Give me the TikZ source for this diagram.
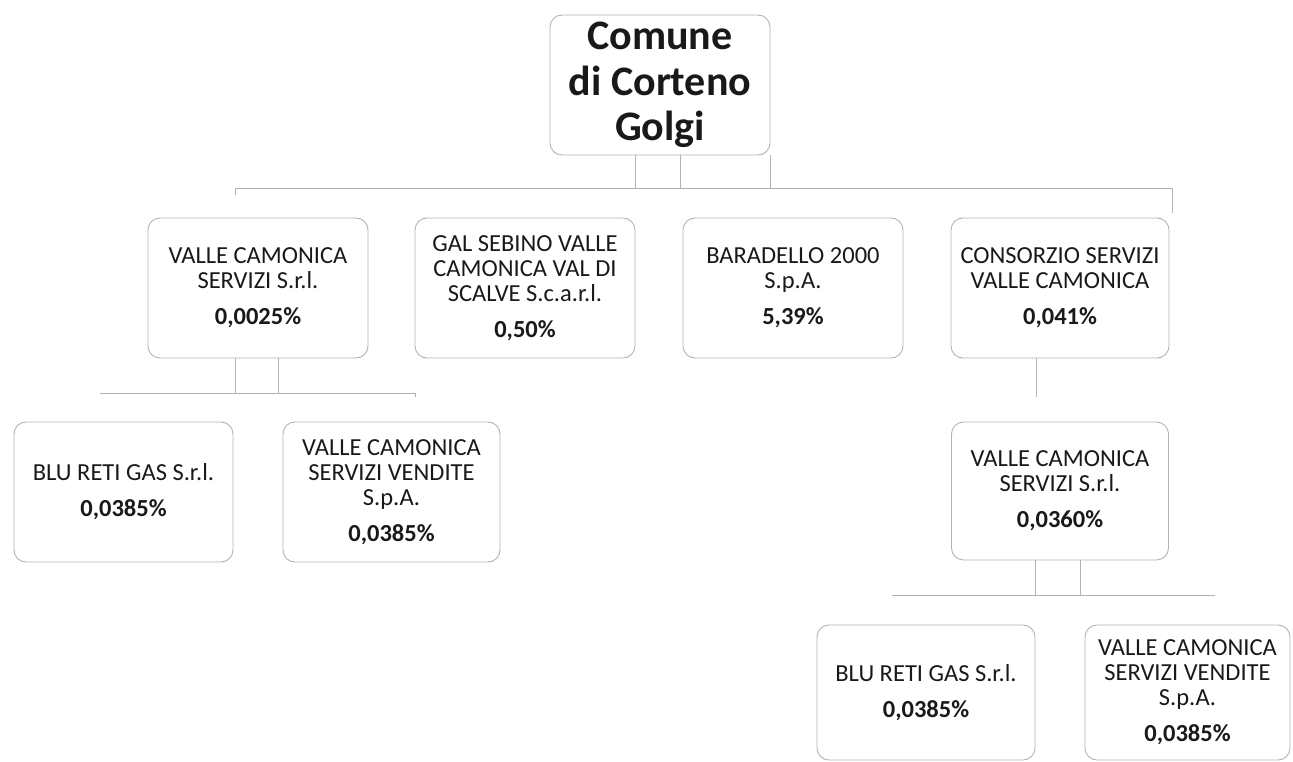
\documentclass[tikz,border=0pt]{standalone}
\usepackage{fontspec}
\setmainfont{Carlito}
\usetikzlibrary{positioning}

\begin{document}
\begin{tikzpicture}[x=1pt, y=-1pt,
    ente/.style={draw=black!30, line width=0.9pt, rounded corners=12pt,
      minimum width=220pt, minimum height=140pt, align=center,
      text=black!90, font=\fontsize{24.5}{25}\selectfont},
    linea/.style={draw=black!30, line width=0.9pt}]
          \useasboundingbox (0,0) rectangle (1293,762);
          \node[ente, font=\fontsize{42}{45.5}\selectfont\bfseries] (comune) at (660,85) {Comune\\di Corteno\\Golgi};
          % primo livello
          \node[ente] (vcs) at (258,288) {VALLE CAMONICA\\SERVIZI S.r.l.\\[11pt]\textbf{0,0025\%}};
          \node[ente] (gal) at (525,288) {GAL SEBINO VALLE\\CAMONICA VAL DI\\SCALVE S.c.a.r.l.\\[11pt]\textbf{0,50\%}};
          \node[ente] (bar) at (793,288) {BARADELLO 2000\\S.p.A.\\[11pt]\textbf{5,39\%}};
          \node[ente, minimum width=218pt] (csvc) at (1060,288) {CONSORZIO SERVIZI\\VALLE CAMONICA\\[11pt]\textbf{0,041\%}};
          % secondo livello
          \node[ente, minimum width=219pt] (blu) at (123.5,492) {BLU RETI GAS S.r.l.\\[11pt]\textbf{0,0385\%}};
          \node[ente, minimum width=217pt] (vend) at (391.5,492) {VALLE CAMONICA\\SERVIZI VENDITE\\S.p.A.\\[11pt]\textbf{0,0385\%}};
          \node[ente, minimum width=217pt, minimum height=138pt] (vcsb) at (1060,491) {VALLE CAMONICA\\SERVIZI S.r.l.\\[11pt]\textbf{0,0360\%}};
          % terzo livello
          \node[ente, minimum width=218pt, minimum height=135pt] (blub) at (926,692.5) {BLU RETI GAS S.r.l.\\[11pt]\textbf{0,0385\%}};
          \node[ente, minimum width=205pt, minimum height=135pt] (vendb) at (1187.5,692.5) {VALLE CAMONICA\\SERVIZI VENDITE\\S.p.A.\\[11pt]\textbf{0,0385\%}};
          % collegamenti
          \coordinate (busL) at (235,188);
          \coordinate (busR) at (1172,188);
          \draw[linea] (busL) -- (busR);
          \draw[linea] (busL) -- ++(0,7);
          \draw[linea] (busR) -- ++(0,25);
          \draw[linea] ([xshift=-25]comune.south) -- ([xshift=-25]comune.south |- busL);
          \draw[linea] ([xshift=20]comune.south) -- ([xshift=20]comune.south |- busL);
          \draw[linea] (comune.south east) -- (comune.south east |- busL);
          \coordinate (subL) at (100,393);
          \coordinate (subR) at (415,393);
          \draw[linea] (subL) -- (subR) -- ++(0,4);
          \draw[linea] ([xshift=-23]vcs.south) -- ([xshift=-23]vcs.south |- subL);
          \draw[linea] ([xshift=20]vcs.south) -- ([xshift=20]vcs.south |- subL);
          \coordinate (csvcEnd) at (1036,397);
          \draw[linea] (csvc.south -| csvcEnd) -- (csvcEnd);
          \coordinate (terL) at (892,595);
          \coordinate (terR) at (1215,595);
          \draw[linea] (terL) -- (terR);
          \draw[linea] ([xshift=-25]vcsb.south) -- ([xshift=-25]vcsb.south |- terL);
          \draw[linea] ([xshift=20]vcsb.south) -- ([xshift=20]vcsb.south |- terL);
    \end{tikzpicture}
\end{document}
